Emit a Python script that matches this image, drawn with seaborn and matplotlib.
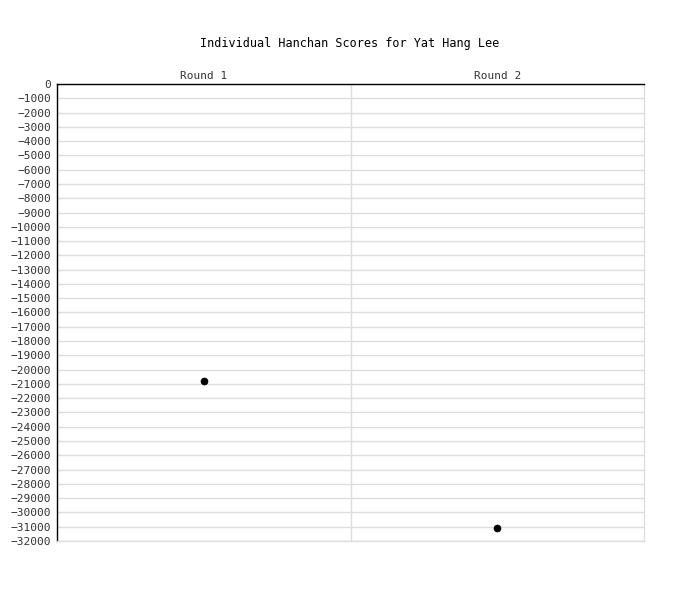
import matplotlib
matplotlib.use('Agg')
from matplotlib import pyplot as plt
import pandas as pd
import numpy as np
import seaborn as sns

rounds = ['Round 1', 'Round 2']
scores = [-20800, -31100]
y_ticks = list(range(0, -33000, -1000))

df = pd.DataFrame({'round': rounds, 'score': scores})

sns.set_style('white')
plt.rcParams['font.family'] = ['DejaVu Sans Mono']

fig = plt.figure(figsize=(7, 6), dpi=100)
ax = fig.add_axes([57 / 700, 1 - 541 / 600, (644 - 57) / 700, (541 - 84) / 600])

sns.scatterplot(data=df, x='round', y='score', ax=ax, color='black', s=26,
                edgecolor='black', zorder=3)

ax.set_xlim(-0.5, 1.5)
ax.set_ylim(-32000, 0)
ax.set_yticks(y_ticks)
ax.set_yticklabels([str(v).replace('-', '\u2212') for v in y_ticks], fontsize=8, color='#333333')
ax.set_xticks([0, 1])
ax.set_xticklabels(rounds, fontsize=8, color='#333333')
ax.set_xticks([0.5], minor=True)
ax.xaxis.tick_top()
ax.tick_params(axis='y', which='both', length=0, pad=4)
ax.tick_params(axis='x', which='both', length=0, pad=2)
ax.set_xlabel('')
ax.set_ylabel('')

ax.grid(axis='y', color='#dddddd', linewidth=1)
ax.grid(axis='x', which='minor', color='#dddddd', linewidth=1)
ax.set_axisbelow(True)

for side in ['left', 'top']:
    ax.spines[side].set_color('black')
    ax.spines[side].set_linewidth(1.0)
for side in ['right', 'bottom']:
    ax.spines[side].set_color('#dddddd')
    ax.spines[side].set_linewidth(1)

fig.text(350 / 700, 1 - 43 / 600, 'Individual Hanchan Scores for Yat Hang Lee',
         ha='center', va='center', fontsize=8.5, color='black')

fig.savefig('out.png', dpi=100)
